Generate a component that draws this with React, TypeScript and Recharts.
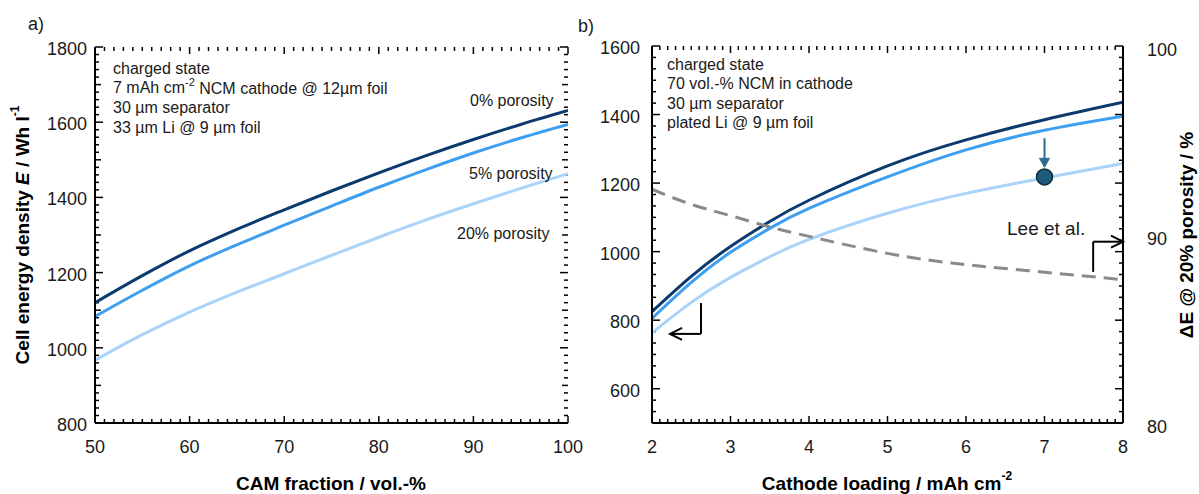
import React from "react";
import { ComposedChart, Line, Scatter, XAxis, YAxis, ReferenceLine } from "recharts";

const FONT = '"Liberation Sans", Arial, Helvetica, sans-serif';

// a) energy density vs CAM fraction
const camFraction = [50, 55, 60, 65, 70, 75, 80, 85, 90, 95, 100];
const camE0 = [1120, 1192, 1258, 1315, 1367, 1417, 1465, 1511, 1554, 1594, 1631];
const camE5 = [1083, 1153, 1218, 1274, 1326, 1377, 1427, 1474, 1518, 1558, 1594];
const camE20 = [967, 1035, 1095, 1148, 1197, 1246, 1294, 1340, 1383, 1424, 1463];

// b) energy density vs cathode loading (+ ΔE on right axis)
const loading = [2, 2.5, 3, 3.5, 4, 5, 6, 7, 8];
const loadE0 = [825, 928, 1015, 1088, 1150, 1250, 1326, 1385, 1436];
const loadE5 = [805, 910, 998, 1068, 1126, 1218, 1297, 1354, 1395];
const loadE20 = [763, 852, 925, 985, 1036, 1112, 1170, 1215, 1257];
const deltaE = [92.4, 91.6, 91.0, 90.4, 89.9, 89.0, 88.4, 88.0, 87.6];
const leePoint = [{ x: 7, y: 1218 }];

const COLORS = {
  p0: "#0b3a6f",
  p5: "#3e9ef0",
  p20: "#a9d3f8",
  dashed: "#8a8a8a",
  lee: "#1c5b79",
};

const rowsA = camFraction.map((x, i) => ({ x, e0: camE0[i], e5: camE5[i], e20: camE20[i] }));
const rowsB = loading.map((x, i) => ({ x, e0: loadE0[i], e5: loadE5[i], e20: loadE20[i], dE: deltaE[i] }));

const steps = (start: number, end: number, step: number) => {
  const n = Math.round((end - start) / step);
  const out: number[] = [];
  for (let i = 0; i <= n; i++) out.push(+(start + i * step).toFixed(6));
  return out;
};

// tick sets
const camTicks = steps(50, 100, 1);
const camMajor = steps(50, 100, 10);
const eTicksA = steps(800, 1800, 20);
const eMajorA = steps(800, 1800, 200);
const eMidA = steps(900, 1700, 200);
const loadTicks = steps(2, 8, 0.1);
const loadMajor = steps(2, 8, 1);
const eTicksB = steps(500, 1600, 100 / 3);
const eMajorB = steps(600, 1600, 200);
const deLabels = [80, 90, 100];

const isIn = (v: number, list: number[]) => list.some((m) => Math.abs(m - v) < 1e-4);

const tickText = { fontSize: 18, fill: "#1a1a1a", fontFamily: FONT };

// tick labels only, the inward tick marks are drawn by markShape below
const xLabel = (majors: number[]) => (props: any) => {
  const { x, y, payload } = props;
  if (!isIn(payload.value, majors)) return <g />;
  return (
    <text x={x} y={y + 24} textAnchor="middle" dominantBaseline="central" {...tickText}>
      {Math.round(payload.value)}
    </text>
  );
};

const yLabel = (majors: number[], gap: number, side: "left" | "right", dy = 2) => (props: any) => {
  const { x, y, payload } = props;
  if (!isIn(payload.value, majors)) return <g />;
  return (
    <text
      x={side === "left" ? x - gap : x + gap}
      y={y + dy}
      textAnchor={side === "left" ? "end" : "start"}
      dominantBaseline="central"
      {...tickText}
    >
      {Math.round(payload.value)}
    </text>
  );
};

// short marks on both ends of a reference line (inward ticks on the box frame)
const markShape = (vertical: boolean, len: number) => (p: any) => {
  const { x1, y1, x2, y2 } = p;
  const s = { stroke: "#000", strokeWidth: 1.5 };
  if (vertical) {
    const top = Math.min(y1, y2);
    const bot = Math.max(y1, y2);
    return (
      <g>
        <line x1={x1} x2={x1} y1={top} y2={top + len} {...s} />
        <line x1={x1} x2={x1} y1={bot} y2={bot - len} {...s} />
      </g>
    );
  }
  const l = Math.min(x1, x2);
  const r = Math.max(x1, x2);
  return (
    <g>
      <line x1={l} x2={l + len} y1={y1} y2={y1} {...s} />
      <line x1={r} x2={r - len} y1={y1} y2={y1} {...s} />
    </g>
  );
};

const arrowShape = (color: string, filled: boolean) => (p: any) => {
  const { x1, y1, x2, y2 } = p;
  const ang = Math.atan2(y2 - y1, x2 - x1);
  const L = filled ? 9 : 12;
  const W = filled ? 5 : 6;
  const bx = x2 - L * Math.cos(ang);
  const by = y2 - L * Math.sin(ang);
  const px = -Math.sin(ang) * W;
  const py = Math.cos(ang) * W;
  const d = `M${bx + px},${by + py} L${x2},${y2} L${bx - px},${by - py}`;
  return (
    <g>
      <line x1={x1} y1={y1} x2={filled ? bx : x2} y2={filled ? by : y2} stroke={color} strokeWidth={2} />
      <path d={filled ? d + "Z" : d} fill={filled ? color : "none"} stroke={color} strokeWidth={filled ? 1 : 2} />
    </g>
  );
};

const axisLine = { stroke: "#000", strokeWidth: 2 };
const common = { type: "number" as const, allowDataOverflow: true, interval: 0 as const, tickLine: false, tickSize: 0, tickMargin: 0, axisLine };

function PanelA() {
  return (
    <ComposedChart width={600} height={494} data={rowsA} margin={{ top: 47, right: 32, bottom: 41, left: 0 }}>
      <XAxis xAxisId="b" dataKey="x" {...common} domain={[50, 100]} ticks={camMajor} height={30} tick={xLabel(camMajor)} />
      <XAxis xAxisId="t" dataKey="x" {...common} orientation="top" domain={[50, 100]} ticks={camMajor} height={0} tick={false} />
      <YAxis yAxisId="l" {...common} domain={[800, 1800]} ticks={eMajorA} width={95} tick={yLabel(eMajorA, 8, "left")} />
      <YAxis yAxisId="m" {...common} orientation="right" domain={[800, 1800]} ticks={eMajorA} width={0} tick={false} />
      {camTicks.map((v) => (
        <ReferenceLine key={`ax${v}`} xAxisId="b" yAxisId="l" x={v} stroke="none" shape={markShape(true, isIn(v, camMajor) ? 7 : 4)} />
      ))}
      {eTicksA.map((v) => (
        <ReferenceLine
          key={`ay${v}`}
          xAxisId="b"
          yAxisId="l"
          y={v}
          stroke="none"
          shape={markShape(false, isIn(v, eMajorA) ? 8 : isIn(v, eMidA) ? 6 : 4)}
        />
      ))}
      <Line xAxisId="b" yAxisId="l" dataKey="e20" type="monotone" stroke={COLORS.p20} strokeWidth={3} dot={false} isAnimationActive={false} />
      <Line xAxisId="b" yAxisId="l" dataKey="e5" type="monotone" stroke={COLORS.p5} strokeWidth={3} dot={false} isAnimationActive={false} />
      <Line xAxisId="b" yAxisId="l" dataKey="e0" type="monotone" stroke={COLORS.p0} strokeWidth={3} dot={false} isAnimationActive={false} />
    </ComposedChart>
  );
}

function PanelB() {
  return (
    <ComposedChart width={599} height={494} data={rowsB} margin={{ top: 46, right: 0, bottom: 41, left: 0 }}>
      <XAxis xAxisId="b" dataKey="x" {...common} domain={[2, 8]} ticks={loadMajor} height={30} tick={xLabel(loadMajor)} />
      <XAxis xAxisId="t" dataKey="x" {...common} orientation="top" domain={[2, 8]} ticks={loadMajor} height={0} tick={false} />
      <YAxis yAxisId="l" {...common} domain={[500, 1600]} ticks={eMajorB} width={52} tick={yLabel(eMajorB, 12, "left")} />
      <YAxis yAxisId="r" {...common} orientation="right" domain={[80, 100]} ticks={deLabels} width={76} tick={yLabel(deLabels, 24, "right", 4)} />
      {loadTicks.map((v) => (
        <ReferenceLine key={`bx${v}`} xAxisId="b" yAxisId="l" x={v} stroke="none" shape={markShape(true, isIn(v, loadMajor) ? 7 : 4)} />
      ))}
      {eTicksB.map((v) => (
        <ReferenceLine key={`by${v}`} xAxisId="b" yAxisId="l" y={v} stroke="none" shape={markShape(false, isIn(v, eMajorB) ? 8 : 4)} />
      ))}
      <Line xAxisId="b" yAxisId="l" dataKey="e20" type="natural" stroke={COLORS.p20} strokeWidth={3} dot={false} isAnimationActive={false} />
      <Line xAxisId="b" yAxisId="l" dataKey="e5" type="natural" stroke={COLORS.p5} strokeWidth={3} dot={false} isAnimationActive={false} />
      <Line xAxisId="b" yAxisId="l" dataKey="e0" type="natural" stroke={COLORS.p0} strokeWidth={3} dot={false} isAnimationActive={false} />
      <Line xAxisId="b" yAxisId="r" dataKey="dE" type="natural" stroke={COLORS.dashed} strokeWidth={3} strokeDasharray="14 8" dot={false} isAnimationActive={false} />
      <Scatter
        xAxisId="b"
        yAxisId="l"
        data={leePoint}
        dataKey="y"
        isAnimationActive={false}
        shape={(p: any) => <circle cx={p.cx} cy={p.cy} r={8} fill={COLORS.lee} stroke="#0c2b3b" strokeWidth={1.5} />}
      />
      {/* annotation arrows */}
      <ReferenceLine xAxisId="b" yAxisId="l" segment={[{ x: 7, y: 1331 }, { x: 7, y: 1246 }]} stroke={COLORS.lee} shape={arrowShape("#2a6d8c", true)} />
      <ReferenceLine xAxisId="b" yAxisId="l" segment={[{ x: 2.624, y: 850 }, { x: 2.624, y: 760 }]} stroke="#000" strokeWidth={2} />
      <ReferenceLine xAxisId="b" yAxisId="l" segment={[{ x: 2.624, y: 760 }, { x: 2.23, y: 760 }]} stroke="#000" shape={arrowShape("#000", false)} />
      <ReferenceLine xAxisId="b" yAxisId="l" segment={[{ x: 7.62, y: 941 }, { x: 7.62, y: 1029 }]} stroke="#000" strokeWidth={2} />
      <ReferenceLine xAxisId="b" yAxisId="l" segment={[{ x: 7.62, y: 1029 }, { x: 8, y: 1029 }]} stroke="#000" shape={arrowShape("#000", false)} />
    </ComposedChart>
  );
}

function Overlay() {
  const t = { fontFamily: FONT, fill: "#1a1a1a" };
  const note = { ...t, fontSize: 16 };
  const title = { ...t, fontSize: 19, fontWeight: 700 as const, fill: "#000" };
  return (
    <svg width={1199} height={494} style={{ position: "absolute", left: 0, top: 0, pointerEvents: "none" }}>
      <text x={28} y={24} fontSize={18} dominantBaseline="central" {...t}>a)</text>
      <text x={578} y={26} fontSize={18} dominantBaseline="central" {...t}>b)</text>

      <text x={113} y={68} dominantBaseline="central" {...note}>charged state</text>
      <text x={113} y={87.5} dominantBaseline="central" {...note}>
        7 mAh cm<tspan dy={-6} fontSize={11}>-2</tspan>
        <tspan dy={6}>{"  NCM cathode @ 12µm foil"}</tspan>
      </text>
      <text x={113} y={107} dominantBaseline="central" {...note}>30 µm separator</text>
      <text x={113} y={127} dominantBaseline="central" {...note}>33 µm Li @ 9 µm foil</text>

      <text x={470} y={100} dominantBaseline="central" {...note}>0% porosity</text>
      <text x={469} y={173} dominantBaseline="central" {...note}>5% porosity</text>
      <text x={457} y={233} dominantBaseline="central" {...note}>20% porosity</text>

      <text x={667} y={64} dominantBaseline="central" {...note}>charged state</text>
      <text x={667} y={83.5} dominantBaseline="central" {...note}>{"70 vol.-%  NCM in cathode"}</text>
      <text x={667} y={103} dominantBaseline="central" {...note}>30 µm separator</text>
      <text x={667} y={122} dominantBaseline="central" {...note}>plated Li @ 9 µm foil</text>

      <text x={1007} y={228} fontSize={19} dominantBaseline="central" {...t}>Lee et al.</text>

      <text x={331} y={483} textAnchor="middle" dominantBaseline="central" {...title}>CAM fraction / vol.-%</text>
      <text x={887} y={483} textAnchor="middle" dominantBaseline="central" {...title}>
        Cathode loading / mAh cm<tspan dy={-7} fontSize={12}>-2</tspan>
      </text>
      <text x={22} y={235} textAnchor="middle" dominantBaseline="central" transform="rotate(-90 22 235)" {...title}>
        Cell energy density <tspan fontStyle="italic">E</tspan> / Wh l<tspan dy={-7} fontSize={12}>-1</tspan>
      </text>
      <text x={1186} y={235} textAnchor="middle" dominantBaseline="central" transform="rotate(-90 1186 235)" {...title}>
        ΔE @ 20% porosity / %
      </text>
    </svg>
  );
}

export default function App() {
  return (
    <div style={{ position: "absolute", left: 0, top: 0, width: 1199, height: 494, background: "#fff", overflow: "hidden", fontFamily: FONT }}>
      <div style={{ position: "absolute", left: 0, top: 0 }}>
        <PanelA />
      </div>
      <div style={{ position: "absolute", left: 600, top: 0 }}>
        <PanelB />
      </div>
      <Overlay />
    </div>
  );
}
